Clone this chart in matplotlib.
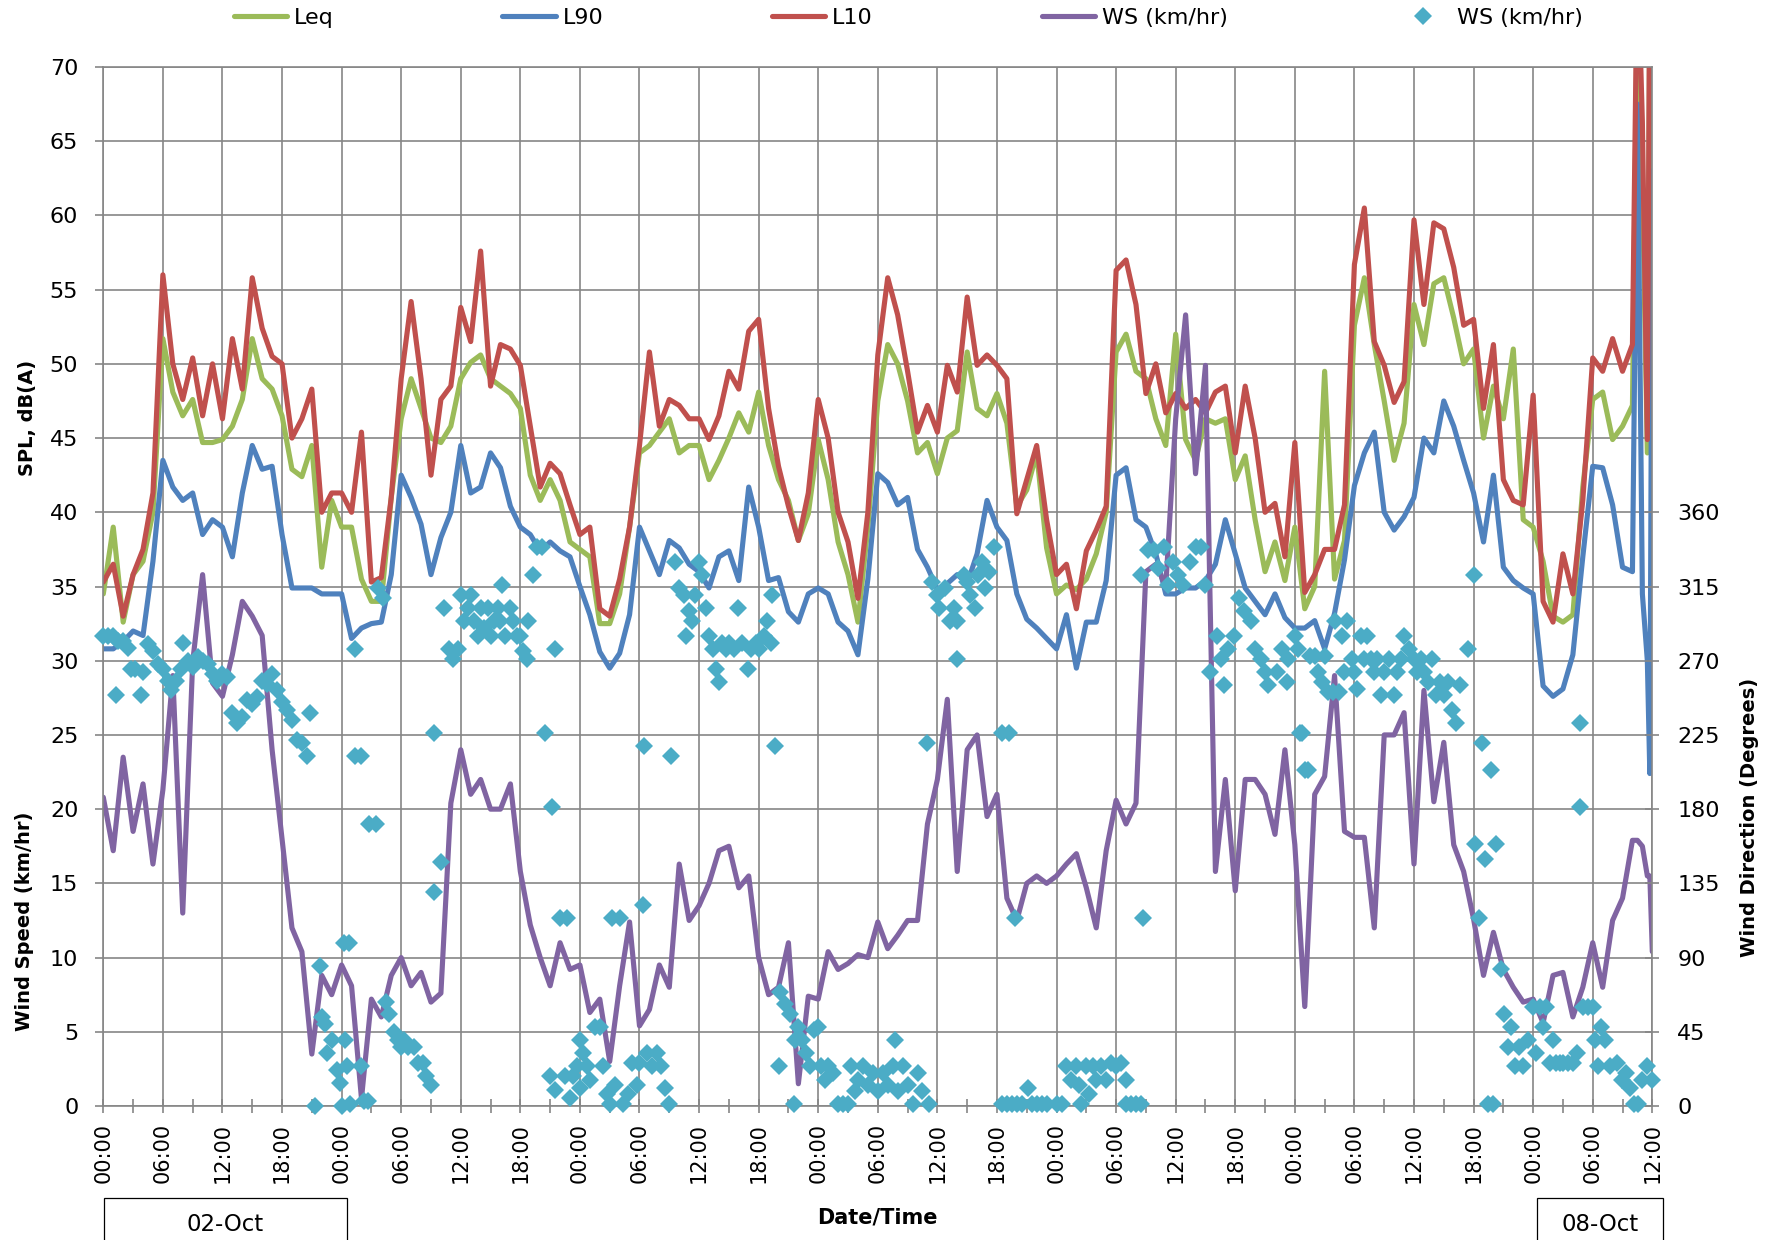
import matplotlib
matplotlib.use("Agg")
import matplotlib.pyplot as plt
from matplotlib.patches import Rectangle
from matplotlib.transforms import blended_transform_factory

# hours since 02-Oct 00:00; hourly log, finer steps over the last two hours
hours = list(range(154)) + [154, 154.5, 155, 155.5, 155.75, 156]

l10 = [
    # 02-Oct
    35.3, 36.5, 33.0, 35.8, 37.5, 41.3, 56.0, 50.0, 47.6, 50.4, 46.5, 50.0,
    46.3, 51.7, 48.3, 55.8, 52.4, 50.5, 50.0, 45.0, 46.3, 48.3, 40.0, 41.3,
    # 03-Oct
    41.3, 40.0, 45.4, 35.3, 35.6, 41.0, 49.0, 54.2, 49.0, 42.5, 47.6, 48.5,
    53.8, 51.5, 57.6, 48.5, 51.3, 51.0, 49.9, 45.8, 41.7, 43.3, 42.6, 40.5,
    # 04-Oct
    38.5, 39.0, 33.5, 33.0, 35.5, 39.0, 44.5, 50.8, 45.8, 47.6, 47.2, 46.3,
    46.3, 44.9, 46.5, 49.5, 48.3, 52.2, 53.0, 47.0, 43.1, 40.4, 38.1, 41.3,
    # 05-Oct
    47.6, 45.0, 40.0, 38.0, 34.2, 40.0, 50.6, 55.8, 53.3, 49.5, 45.4, 47.2,
    45.4, 49.9, 48.1, 54.5, 49.9, 50.6, 49.9, 49.0, 39.9, 42.2, 44.5, 39.5,
    # 06-Oct
    35.8, 36.5, 33.5, 37.4, 38.8, 40.4, 56.3, 57.0, 54.0, 48.0, 50.0, 46.7,
    48.0, 47.0, 47.6, 46.7, 48.1, 48.5, 44.0, 48.5, 45.0, 40.0, 40.6, 37.0,
    # 07-Oct
    44.7, 34.6, 35.8, 37.5, 37.5, 40.5, 56.7, 60.5, 51.5, 49.9, 47.4, 48.8,
    59.7, 54.0, 59.5, 59.1, 56.5, 52.6, 53.0, 47.0, 51.3, 42.2, 40.8, 40.5,
    # 08-Oct
    47.9, 34.0, 32.6, 37.2, 34.5, 40.8, 50.4, 49.5, 51.7, 49.5,
    51.3, 78.0, 66.3, 44.9, 78.0, 78.0,
]

leq = [
    # 02-Oct
    34.5, 39.0, 32.6, 35.8, 36.7, 40.0, 51.7, 48.1, 46.5, 47.6, 44.7, 44.7,
    44.9, 45.8, 47.6, 51.7, 49.0, 48.3, 46.5, 42.9, 42.4, 44.5, 36.3, 40.8,
    # 03-Oct
    39.0, 39.0, 35.5, 34.0, 34.0, 41.0, 46.3, 49.0, 47.0, 45.0, 44.7, 45.8,
    49.0, 50.1, 50.6, 49.0, 48.5, 48.0, 47.0, 42.5, 40.8, 42.2, 40.8, 38.0,
    # 04-Oct
    37.5, 37.0, 32.5, 32.5, 34.5, 39.0, 44.0, 44.5, 45.4, 46.3, 44.0, 44.5,
    44.5, 42.2, 43.5, 45.0, 46.7, 45.4, 48.1, 44.5, 42.2, 40.8, 38.1, 39.9,
    # 05-Oct
    44.9, 42.2, 38.0, 35.8, 32.6, 39.0, 47.5, 51.3, 50.0, 47.5, 44.0, 44.7,
    42.6, 45.0, 45.5, 50.8, 47.0, 46.5, 48.0, 46.0, 40.4, 41.5, 44.0, 37.6,
    # 06-Oct
    34.5, 35.1, 34.8, 35.5, 37.2, 40.0, 50.8, 52.0, 49.5, 49.0, 46.3, 44.5,
    52.0, 44.9, 43.5, 46.3, 46.0, 46.3, 42.2, 43.8, 39.5, 36.0, 38.0, 35.4,
    # 07-Oct
    39.0, 33.5, 35.0, 49.5, 35.5, 38.1, 52.6, 55.8, 51.3, 47.5, 43.5, 46.0,
    54.0, 51.3, 55.4, 55.8, 53.1, 50.0, 51.0, 45.0, 48.5, 46.3, 51.0, 39.5,
    # 08-Oct
    39.0, 36.7, 33.0, 32.6, 33.1, 41.7, 47.6, 48.1, 44.9, 45.8,
    47.2, 75.0, 62.0, 44.0, 75.0, 75.0,
]

l90 = [
    # 02-Oct
    30.8, 30.8, 31.3, 32.0, 31.7, 36.7, 43.5, 41.7, 40.8, 41.3, 38.5, 39.5,
    39.0, 37.0, 41.3, 44.5, 42.9, 43.1, 38.5, 34.9, 34.9, 34.9, 34.5, 34.5,
    # 03-Oct
    34.5, 31.5, 32.2, 32.5, 32.6, 35.8, 42.5, 41.0, 39.2, 35.8, 38.3, 40.0,
    44.5, 41.3, 41.7, 44.0, 43.0, 40.4, 39.0, 38.5, 37.4, 38.0, 37.4, 37.0,
    # 04-Oct
    35.0, 33.1, 30.6, 29.5, 30.5, 33.1, 39.0, 37.4, 35.8, 38.1, 37.6, 36.5,
    36.0, 34.9, 37.0, 37.4, 35.4, 41.7, 39.0, 35.4, 35.6, 33.3, 32.6, 34.5,
    # 05-Oct
    34.9, 34.5, 32.6, 32.0, 30.4, 35.5, 42.6, 42.0, 40.5, 41.0, 37.5, 36.3,
    34.8, 35.2, 35.8, 35.2, 37.2, 40.8, 39.0, 38.1, 34.5, 32.8, 32.2, 31.5,
    # 06-Oct
    30.8, 33.1, 29.5, 32.6, 32.6, 35.4, 42.5, 43.0, 39.5, 39.0, 37.2, 34.5,
    34.5, 34.9, 34.9, 35.4, 36.5, 39.5, 37.2, 34.9, 34.0, 33.1, 34.5, 32.9,
    # 07-Oct
    32.2, 32.2, 32.7, 30.8, 33.2, 36.8, 41.8, 44.0, 45.4, 40.0, 38.8, 39.7,
    41.0, 45.0, 44.0, 47.5, 45.8, 43.5, 41.3, 38.0, 42.5, 36.3, 35.4, 34.9,
    # 08-Oct
    34.5, 28.3, 27.6, 28.1, 30.4, 37.0, 43.1, 43.0, 40.5, 36.3,
    36.0, 67.5, 34.5, 30.0, 22.4, 63.0,
]

wind_speed = [
    # 02-Oct
    20.8, 17.2, 23.5, 18.5, 21.7, 16.3, 21.3, 29.0, 13.0, 29.9, 35.8, 28.5,
    27.6, 30.4, 34.0, 33.0, 31.7, 24.0, 18.0, 12.0, 10.4, 3.5, 8.8, 7.5,
    # 03-Oct
    9.5, 8.1, 0.5, 7.2, 6.0, 8.8, 10.0, 8.1, 9.0, 7.0, 7.6, 20.4,
    24.0, 21.0, 22.0, 20.0, 20.0, 21.7, 15.8, 12.2, 10.0, 8.1, 11.0, 9.2,
    # 04-Oct
    9.5, 6.3, 7.2, 3.0, 8.1, 12.4, 5.4, 6.5, 9.5, 8.0, 16.3, 12.5,
    13.5, 15.0, 17.2, 17.5, 14.7, 15.5, 10.0, 7.5, 8.0, 11.0, 1.5, 7.4,
    # 05-Oct
    7.2, 10.4, 9.2, 9.6, 10.2, 10.0, 12.4, 10.6, 11.5, 12.5, 12.5, 19.0,
    22.0, 27.4, 15.8, 24.0, 25.0, 19.5, 21.0, 14.0, 12.5, 15.0, 15.5, 15.0,
    # 06-Oct
    15.5, 16.3, 17.0, 14.7, 12.0, 17.2, 20.6, 19.0, 20.4, 36.0, 36.5, 35.0,
    46.3, 53.3, 42.6, 49.9, 15.8, 22.0, 14.5, 22.0, 22.0, 21.0, 18.3, 24.0,
    # 07-Oct
    17.6, 6.7, 21.0, 22.2, 29.0, 18.5, 18.1, 18.1, 12.0, 25.0, 25.0, 26.5,
    16.3, 28.0, 20.5, 24.5, 17.6, 15.8, 12.6, 8.8, 11.7, 9.2, 8.0, 7.0,
    # 08-Oct
    7.2, 5.6, 8.8, 9.0, 6.0, 8.0, 11.0, 8.0, 12.5, 14.0,
    17.9, 17.9, 17.5, 15.5, 15.5, 10.4,
]

# wind direction readings (hour, degrees)
wd_hours = [
    0, 0.5, 1, 1.3, 1.5, 2, 2.5, 2.8, 3.2, 3.8, 4, 4.5, 5, 5.5, 6, 6.5, 6.8,
    7.3, 7.8, 8, 8.5, 9, 9.5, 10, 10.5, 11, 11.5, 12, 12.5, 13, 13.5, 14,
    14.5, 15, 15.5, 16, 16.5, 17, 17.5, 18, 18.5, 19, 19.5, 20, 20.5, 20.8,
    21.3, 21.8, 22, 22.3, 22.5, 23, 23.5, 23.8, 24, 24.2,
    24.3, 24.5, 24.7, 24.8, 26, 26.3, 26.7, 25.3, 25.3, 26, 26.8, 27.5, 27.7,
    28.2, 28.5, 28.8, 29.3, 29.7, 30, 30.3, 30.7, 31.3, 31.7, 32.2, 32.5, 33,
    33.3, 33.3, 34, 34.3, 34.8, 35.2, 35.7, 36, 36.3, 36.7, 37, 37.3, 37.7,
    38, 38.3, 38.7, 39, 39.3, 39.7, 40, 40.2, 40.5, 41, 41.3, 41.7, 42, 42.3,
    42.7, 42.8, 43.3, 43.7, 44.2, 44.5, 45.2, 45.5, 45, 45.5, 46, 46.5, 46.7,
    47, 47.3, 47.7, 48,
    48, 48.3, 48.7, 49, 49.5, 50, 50.3, 50.7, 51, 51.2, 51.5, 52, 52.3, 52.8,
    53.2, 53.7, 54, 54.4, 54.5, 54.8, 55.3, 55.8, 56.2, 56.6, 57, 57.2, 57.6,
    58, 58.5, 58.7, 59, 59.3, 59.6, 60, 60.3, 60.7, 61, 61.4, 61.7, 62, 62.3,
    62.7, 63, 63.5, 63.9, 64.3, 64.9, 65.2, 65.7, 66, 66.5, 66.8, 67.2, 67.3,
    67.6, 68, 68.2, 68.7, 69.2, 69.6, 69.7, 70, 70.4, 70.8, 71.2, 71.6,
    72, 72.3, 72.7, 73, 73.5, 74, 74.5, 75, 75.3, 75.7, 76, 76.5, 77, 77.5,
    78, 78.5, 79, 79.5, 79.7, 80, 80.5, 81, 81.5, 82, 82.5, 83, 83.2, 83.5,
    84, 84.2, 84.8, 85.3, 85.7, 86, 86, 86.7, 87, 87.3, 87.8, 88.1, 88.5,
    88.8, 89.2, 89.7, 90.5, 91.2, 91.8, 90.5, 91, 91.5, 92, 92.5, 93.1, 93.5,
    94, 94.5, 95,
    96, 96.5, 97, 97.5, 98, 98.3, 98.5, 99, 99.3, 99.7, 100, 100.5, 101,
    101.5, 102, 102.5, 103, 103, 103.5, 104, 104.5, 104.7, 104.5, 105.2,
    105.8, 106.2, 106.8, 107.2, 107.7, 108.2, 108.7, 109.4, 110, 110.5, 111,
    111.5, 112.2, 112.6, 112.9, 113.3, 113.9, 114.4, 114.9, 115.6, 116,
    116.6, 117, 117.3, 118.2, 118.7, 119.2, 119.3, 120.5, 121,
    120, 120.3, 120.7, 121.3, 121.5, 122, 122.3, 122.7, 123, 123.3, 123.8,
    124, 124.4, 124.7, 125, 125.3, 125.8, 126, 126.3, 126.7, 127, 127.3,
    127.7, 128, 128.3, 128.7, 129, 129.5, 130, 130.3, 130.7, 131, 131.5, 132,
    132.3, 132.7, 133, 133.4, 133.8, 134.2, 134.6, 135, 135.4, 135.8, 136.2,
    136.6, 137.4, 138, 138.1, 138.5, 138.8, 139.2, 139.5, 139.8, 140, 140.3,
    140.8, 141.1, 141.5, 141.8, 142.2, 142.6, 143, 143.5,
    144, 144.3, 144.7, 145, 145.3, 145.7, 146, 146.3, 146.7, 147, 147.5, 148,
    148.4, 148.7, 148.7, 149, 149.5, 150, 150.2, 150.5, 150.8, 151.2, 151.7,
    152.4, 152.9, 153.4, 153.8, 154.2, 154.6, 155, 155.5, 156,
]
wd_deg = [
    285, 285, 285, 249, 282, 282, 278, 265, 265, 249, 263, 280, 276, 268, 265,
    258, 252, 258, 265, 281, 270, 266, 272, 270, 268, 262, 258, 262, 260, 238,
    232, 236, 246, 244, 248, 258, 256, 262, 252, 245, 240, 234, 222, 220, 212,
    238, 0, 85, 54, 50, 32, 40, 22, 14, 0, 99,
    40, 24, 99, 1, 24, 3, 3, 277, 212, 212, 171, 171, 314, 308, 63, 56, 45,
    40, 36, 40, 36, 36, 26, 26, 18, 13, 130, 226, 148, 302, 277, 271, 277,
    310, 294, 302, 310, 294, 285, 302, 290, 302, 285, 294, 302, 294, 316, 285,
    302, 294, 285, 285, 276, 271, 294, 322, 339, 339, 226, 181, 277, 18, 10,
    114, 18, 114, 5, 18, 24, 11,
    40, 32, 24, 16, 48, 48, 24, 7, 1, 114, 13, 114, 1, 7, 26, 13, 26, 122,
    218, 32, 24, 32, 24, 11, 1, 212, 330, 314, 310, 285, 300, 294, 310, 330,
    322, 302, 285, 277, 265, 257, 281, 277, 281, 277, 302, 281, 265, 277, 281,
    277, 285, 294, 281, 310, 218, 24, 69, 62, 56, 1, 40, 48, 40, 32, 24, 46,
    48, 24, 16, 24, 20, 1, 1, 1, 24, 9, 16, 24, 13, 20, 9, 20, 13, 24, 40, 9,
    24, 13, 1, 20, 9, 220, 1, 318, 310, 302, 314, 294, 302, 294, 271, 322,
    318, 310, 302, 322, 330, 314, 324, 339, 226, 226, 114, 1, 1, 1, 1, 1, 11,
    1, 1, 1, 1,
    1, 1, 24, 16, 24, 13, 1, 24, 7, 24, 16, 24, 16, 26, 24, 26, 16, 1, 1, 1,
    1, 114, 322, 337, 337, 326, 339, 316, 330, 322, 316, 330, 339, 339, 316,
    263, 285, 271, 255, 277, 285, 308, 300, 294, 277, 271, 263, 255, 263, 277,
    257, 271, 226, 204,
    285, 277, 226, 204, 273, 273, 263, 257, 273, 251, 251, 294, 251, 285, 263,
    294, 271, 263, 253, 285, 271, 285, 271, 263, 271, 249, 263, 271, 249, 263,
    271, 285, 277, 271, 263, 271, 263, 257, 271, 249, 257, 249, 257, 240, 232,
    255, 277, 322, 159, 114, 220, 150, 1, 204, 1, 159, 83, 56, 36, 48, 24, 36,
    24, 40,
    60, 32, 60, 48, 60, 26, 40, 26, 26, 26, 26, 26, 32, 232, 181, 60, 60, 60,
    40, 24, 48, 40, 24, 26, 16, 20, 11, 1, 1, 16, 24, 16,
]

day_labels = ["02-Oct", "08-Oct"]

GRID = "#868686"
C_LEQ, C_L90, C_L10 = "#9BBB59", "#4F81BD", "#C0504D"
C_WS, C_WD = "#8064A2", "#4BACC6"

fig = plt.figure(figsize=(17.82, 12.40), dpi=100)
ax = fig.add_axes([0.05797, 0.10806, 0.86925, 0.83791])

line_kw = dict(lw=3.7, solid_joinstyle="round", solid_capstyle="round")
ax.plot(hours, leq, color=C_LEQ, label="Leq", **line_kw)
ax.plot(hours, l90, color=C_L90, label="L90", **line_kw)
ax.plot(hours, l10, color=C_L10, label="L10", **line_kw)
ax.plot(hours, wind_speed, color=C_WS, label="WS (km/hr)", **line_kw)

ax.set_xlim(0, 156)
ax.set_ylim(0, 70)
ax.set_yticks(range(0, 71, 5))
major = list(range(0, 157, 6))
ax.set_xticks(major)
ax.set_xticklabels([f"{h % 24:02d}:00" for h in major], rotation=90)
ax.set_xticks(range(0, 157, 3), minor=True)
ax.grid(which="major", color=GRID, lw=1.2)
ax.set_axisbelow(True)
for sp in ax.spines.values():
    sp.set_color(GRID)
    sp.set_linewidth(1.2)
ax.tick_params(axis="y", direction="out", length=6, width=1.2, color=GRID,
               pad=12, labelsize=16)
ax.tick_params(axis="x", which="both", direction="inout", length=10,
               width=1.2, color=GRID, pad=7, labelsize=15)

# wind direction on the secondary axis, 0-360 deg lined up with 0-40
ax2 = ax.twinx()
ax2.set_ylim(0, 630)
ax2.set_yticks(range(0, 361, 45))
ax2.plot(wd_hours, wd_deg, ls="none", marker="D", ms=9.5, mew=0, color=C_WD,
         label="WS (km/hr)", clip_on=False)
for sp in ax2.spines.values():
    sp.set_visible(False)
ax2.tick_params(axis="y", direction="inout", length=10, width=1.2,
                color=GRID, pad=13, labelsize=16)

h1, l1 = ax.get_legend_handles_labels()
h2, l2 = ax2.get_legend_handles_labels()
fig.legend(h1 + h2, l1 + l2, ncol=5, loc="center",
           bbox_to_anchor=(0.5096, 1 - 18 / 1240), frameon=False, fontsize=16,
           handlelength=2.4, handletextpad=0.3, columnspacing=7.6)

bold = dict(fontweight="bold", ha="center", va="center", rotation=90)
fig.text(0.0157, 0.663, "SPL, dB(A)", fontsize=14, **bold)
fig.text(0.014, 0.2567, "Wind Speed (km/hr)", fontsize=14, **bold)
fig.text(0.982, 0.3406, "Wind Direction (Degrees)", fontsize=14, **bold)
fig.text(0.4925, 0.0185, "Date/Time", fontsize=15, fontweight="bold",
         ha="center", va="center")

# day boxes under the time axis
trans = blended_transform_factory(ax.transData, fig.transFigure)
for (x0, x1), label in zip([(0.05, 24.5), (144.4, 157.1)], day_labels):
    ax.add_patch(Rectangle((x0, -0.05), x1 - x0, 0.0839, transform=trans,
                           fill=False, ec="black", lw=0.9, clip_on=False))
    ax.text((x0 + x1) / 2, 0.0121, label, transform=trans, fontsize=16.5,
            ha="center", va="center")

fig.savefig("out.png", dpi=100)
